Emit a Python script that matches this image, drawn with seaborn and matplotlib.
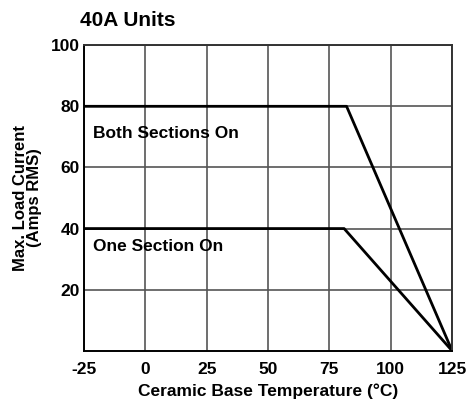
import pandas as pd
import numpy as np
import seaborn as sns
import matplotlib.pyplot as plt

# derating curves
temp_both = [-25, 82, 125]
amps_both = [80, 80, 0]
temp_one = [-25, 81, 125]
amps_one = [40, 40, 0]

x_ticks = [-25, 0, 25, 50, 75, 100, 125]
y_ticks = [20, 40, 60, 80, 100]

sns.set_style("white")
plt.rcParams['font.family'] = ['Liberation Sans', 'DejaVu Sans']
plt.rcParams['font.weight'] = 'bold'
plt.rcParams['text.color'] = 'black'
plt.rcParams['axes.labelcolor'] = 'black'
plt.rcParams['xtick.color'] = 'black'
plt.rcParams['ytick.color'] = 'black'

df = pd.concat([
    pd.DataFrame({"temp": temp_both, "amps": amps_both, "mode": "Both Sections On"}),
    pd.DataFrame({"temp": temp_one, "amps": amps_one, "mode": "One Section On"}),
])

fig, ax = plt.subplots(figsize=(4.69, 4.07), dpi=100)
fig.subplots_adjust(left=0.179, right=0.964, top=0.889, bottom=0.138)

sns.lineplot(data=df, x="temp", y="amps", units="mode", estimator=None,
             color="black", linewidth=2, ax=ax, legend=False, sort=False)

ax.set_xlim(-25, 125)
ax.set_ylim(0, 100)
ax.set_xticks(x_ticks)
ax.set_yticks(y_ticks)
ax.set_xticklabels([str(t) for t in x_ticks], fontsize=12.5, fontweight='bold')
ax.set_yticklabels([str(t) for t in y_ticks], fontsize=12.5, fontweight='bold')
ax.tick_params(axis='x', length=0, pad=8)
ax.tick_params(axis='y', length=0, pad=3)
ax.grid(True, color="#555555", linewidth=1.2)
ax.set_axisbelow(True)
for s in ax.spines.values():
    s.set_color("#333333")
    s.set_linewidth(1.4)
ax.spines['left'].set_color("black")
ax.spines['bottom'].set_color("black")

ax.set_xlabel("Ceramic Base Temperature (°C)", fontsize=12.5, fontweight='bold', labelpad=5)
ax.set_ylabel("Max. Load Current\n(Amps RMS)", fontsize=12, fontweight='bold',
              labelpad=6, linespacing=0.95)

ax.text(-21.5, 71, "Both Sections On", fontsize=12.5, fontweight='bold', va='center')
ax.text(-21.5, 34, "One Section On", fontsize=12.5, fontweight='bold', va='center')

fig.text(0.171, 0.95, "40A Units", fontsize=15, fontweight='bold', va='center')

plt.savefig("out.png", dpi=100)
